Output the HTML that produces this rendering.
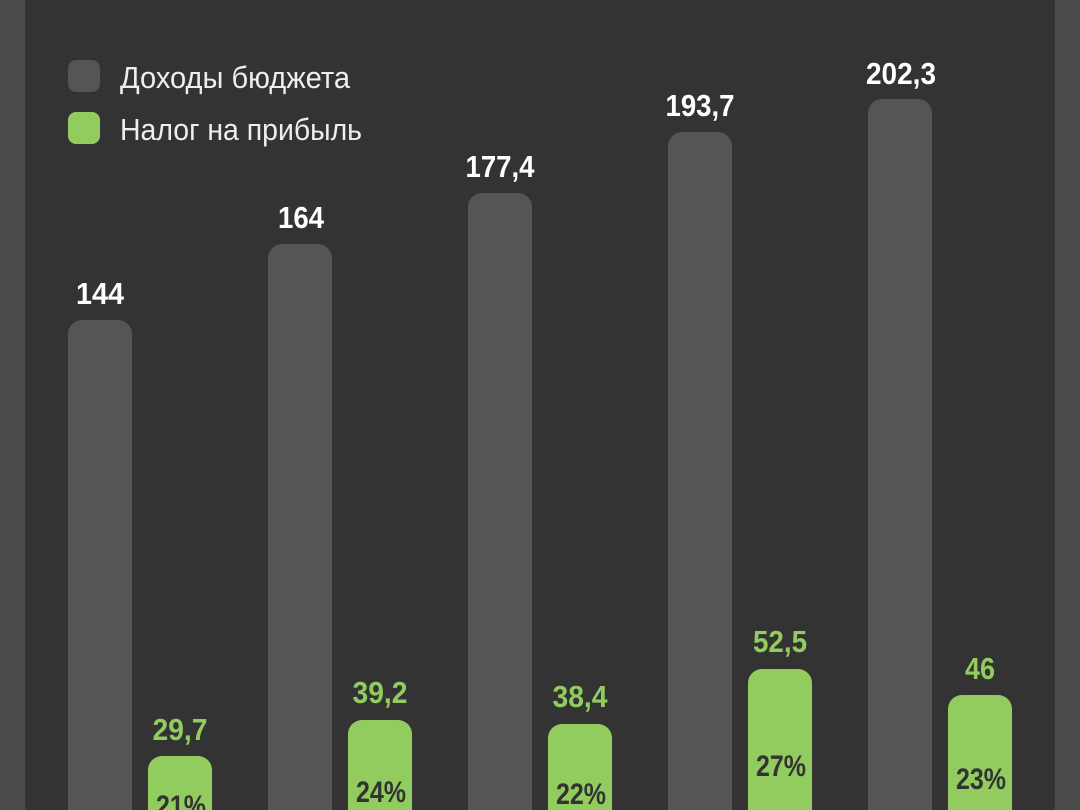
<!DOCTYPE html>
<html><head><meta charset="utf-8"><style>
html,body{margin:0;padding:0;background:#333;width:1080px;height:810px;overflow:hidden;}
svg{display:block}
text{font-family:"Liberation Sans","DejaVu Sans",sans-serif;font-weight:bold;}
</style></head><body>
<svg width="1080" height="810" viewBox="0 0 1080 810" xmlns="http://www.w3.org/2000/svg">
<rect x="0" y="0" width="1080" height="810" fill="#333333"/>
<rect x="0" y="0" width="25" height="810" fill="#4b4b4b"/>
<rect x="1055" y="0" width="25" height="810" fill="#4b4b4b"/>
<rect x="68" y="60" width="32" height="32" rx="8" fill="#555555"/>
<rect x="68" y="112" width="32" height="32" rx="8" fill="#92cc5f"/>
<text x="120" y="88" font-size="31" style="font-weight:normal" fill="#eeeeee" textLength="230" lengthAdjust="spacingAndGlyphs">Доходы бюджета</text>
<text x="120" y="140" font-size="31" style="font-weight:normal" fill="#eeeeee" textLength="242" lengthAdjust="spacingAndGlyphs">Налог на прибыль</text>
<g fill="#555555">
<rect x="68" y="320" width="64" height="510" rx="14"/>
<rect x="268" y="244" width="64" height="586" rx="14"/>
<rect x="468" y="193" width="64" height="637" rx="14"/>
<rect x="668" y="132" width="64" height="698" rx="14"/>
<rect x="868" y="99" width="64" height="731" rx="14"/>
</g>
<g fill="#ffffff" font-size="31" text-anchor="middle">
<text x="100" y="304" textLength="48" lengthAdjust="spacingAndGlyphs">144</text>
<text x="301" y="228" textLength="46" lengthAdjust="spacingAndGlyphs">164</text>
<text x="500" y="177" textLength="69" lengthAdjust="spacingAndGlyphs">177,4</text>
<text x="700" y="116" textLength="69" lengthAdjust="spacingAndGlyphs">193,7</text>
<text x="901" y="84" textLength="70" lengthAdjust="spacingAndGlyphs">202,3</text>
</g>
<g fill="#92cc5f">
<rect x="148" y="756" width="64" height="74" rx="14"/>
<rect x="348" y="720" width="64" height="110" rx="14"/>
<rect x="548" y="724" width="64" height="106" rx="14"/>
<rect x="748" y="669" width="64" height="161" rx="14"/>
<rect x="948" y="695" width="64" height="135" rx="14"/>
</g>
<g fill="#92cc5f" font-size="31" text-anchor="middle">
<text x="180" y="740" textLength="55" lengthAdjust="spacingAndGlyphs">29,7</text>
<text x="380" y="703" textLength="55" lengthAdjust="spacingAndGlyphs">39,2</text>
<text x="580" y="707" textLength="55" lengthAdjust="spacingAndGlyphs">38,4</text>
<text x="780" y="652" textLength="54" lengthAdjust="spacingAndGlyphs">52,5</text>
<text x="980" y="679" textLength="30" lengthAdjust="spacingAndGlyphs">46</text>
</g>
<g fill="#333333" font-size="30" text-anchor="middle">
<text x="181" y="816" textLength="50" lengthAdjust="spacingAndGlyphs">21%</text>
<text x="381" y="802" textLength="50" lengthAdjust="spacingAndGlyphs">24%</text>
<text x="581" y="804" textLength="50" lengthAdjust="spacingAndGlyphs">22%</text>
<text x="781" y="776" textLength="50" lengthAdjust="spacingAndGlyphs">27%</text>
<text x="981" y="789" textLength="50" lengthAdjust="spacingAndGlyphs">23%</text>
</g>
</svg>
</body></html>
